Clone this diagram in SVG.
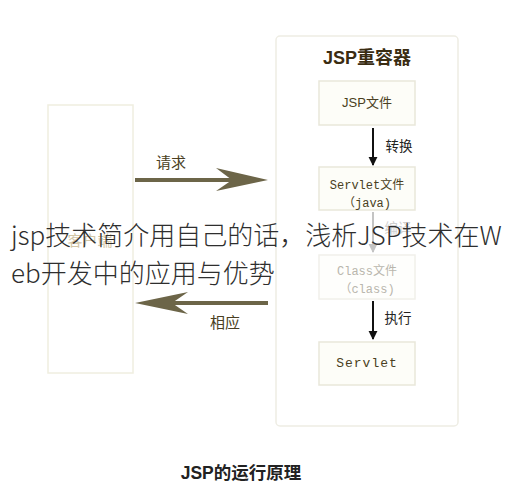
<svg xmlns="http://www.w3.org/2000/svg" width="509" height="490" viewBox="0 0 509 490">
<style>
.box{fill:#fdfdf8;stroke:#e9e7da;stroke-width:1.5}
.lbl{font-family:"Liberation Sans","Noto Sans CJK SC",sans-serif;font-size:15px;fill:#4a3f22;text-anchor:middle}
.mono{font-family:"Liberation Mono","Noto Sans CJK SC",monospace;font-size:12px;fill:#4a3f22;text-anchor:middle}
.fade{fill:#b9b6ad}
.ov{font-family:"Noto Sans CJK SC",sans-serif;font-weight:300;font-size:26px;fill:#2e2e2e}
</style>
<defs>
<marker id="ah" viewBox="0 0 10 10" refX="9" refY="5" markerWidth="4.5" markerHeight="5.5" orient="auto" markerUnits="strokeWidth">
<path d="M0,0 L10,5 L0,10 Z" fill="context-stroke"/>
</marker>
</defs>
<rect width="509" height="490" fill="#ffffff"/>

<g id="client">
<rect x="48" y="105" width="85" height="268" fill="#ffffff" stroke="#efeee0" stroke-width="1.5"/>
<text x="90" y="246" class="lbl" style="fill:#d3c6a6">客户端</text>
</g>

<g id="container">
<rect x="276" y="36" width="182" height="390" rx="4" fill="#ffffff" stroke="#eeede4" stroke-width="1.5"/>
<text x="367" y="64" style="font-family:'Liberation Sans','Noto Sans CJK SC',sans-serif;font-size:18px;font-weight:bold;fill:#3a2c12;text-anchor:middle">JSP重容器</text>
</g>

<g id="jspfile">
<rect class="box" x="319" y="81" width="96" height="44"/>
<text x="367" y="107" class="lbl" style="font-size:13px">JSP文件</text>
</g>

<g id="servletfile">
<rect class="box" x="319" y="167" width="96" height="43"/>
<text x="367" y="189" class="mono">Servlet文件</text>
<text x="367" y="207" class="mono">（java)</text>
</g>

<g id="classfile">
<rect x="319" y="255" width="96" height="44" fill="#fefefc" stroke="#f1f0ea" stroke-width="1.5"/>
<text x="367" y="275" class="mono fade">Class文件</text>
<text x="367" y="293" class="mono fade">（class)</text>
</g>

<g id="servlet">
<rect class="box" x="319" y="342" width="96" height="43"/>
<text x="367" y="367" class="mono" style="font-size:13px;letter-spacing:1px">Servlet</text>
</g>

<g id="connectors">
<path d="M135,180 H240" stroke="#6c6548" stroke-width="4" fill="none"/>
<path d="M268,180 L216,168 L232,180 L216,191 Z" fill="#6c6548"/>
<path d="M268,303 H165" stroke="#6c6548" stroke-width="4" fill="none"/>
<path d="M135,303 L188,292 L172,303 L188,314 Z" fill="#6c6548"/>
<text x="171" y="168" class="lbl">请求</text>
<text x="225" y="328" class="lbl">相应</text>

<path d="M373,128 V165" stroke="#111" stroke-width="2" fill="none" marker-end="url(#ah)"/>
<text x="399" y="151" class="lbl" style="fill:#222;font-size:13.5px">转换</text>
<path d="M373,212 V252" stroke="#c4c4c4" stroke-width="2" fill="none" marker-end="url(#ah)"/>
<text x="398" y="233" class="lbl" style="fill:#cfcfcf;font-size:13.5px">编译</text>
<path d="M373,301 V339" stroke="#111" stroke-width="2" fill="none" marker-end="url(#ah)"/>
<text x="398" y="323" class="lbl" style="fill:#222;font-size:13.5px">执行</text>
</g>

<text x="241" y="479" style="font-family:'Liberation Sans','Noto Sans CJK SC',sans-serif;font-size:17.5px;font-weight:bold;fill:#222;text-anchor:middle">JSP的运行原理</text>

<text x="11" y="245" class="ov">jsp技术简介用自己的话，浅析JSP技术在W</text>
<text x="11" y="283" class="ov">eb开发中的应用与优势</text>
</svg>
